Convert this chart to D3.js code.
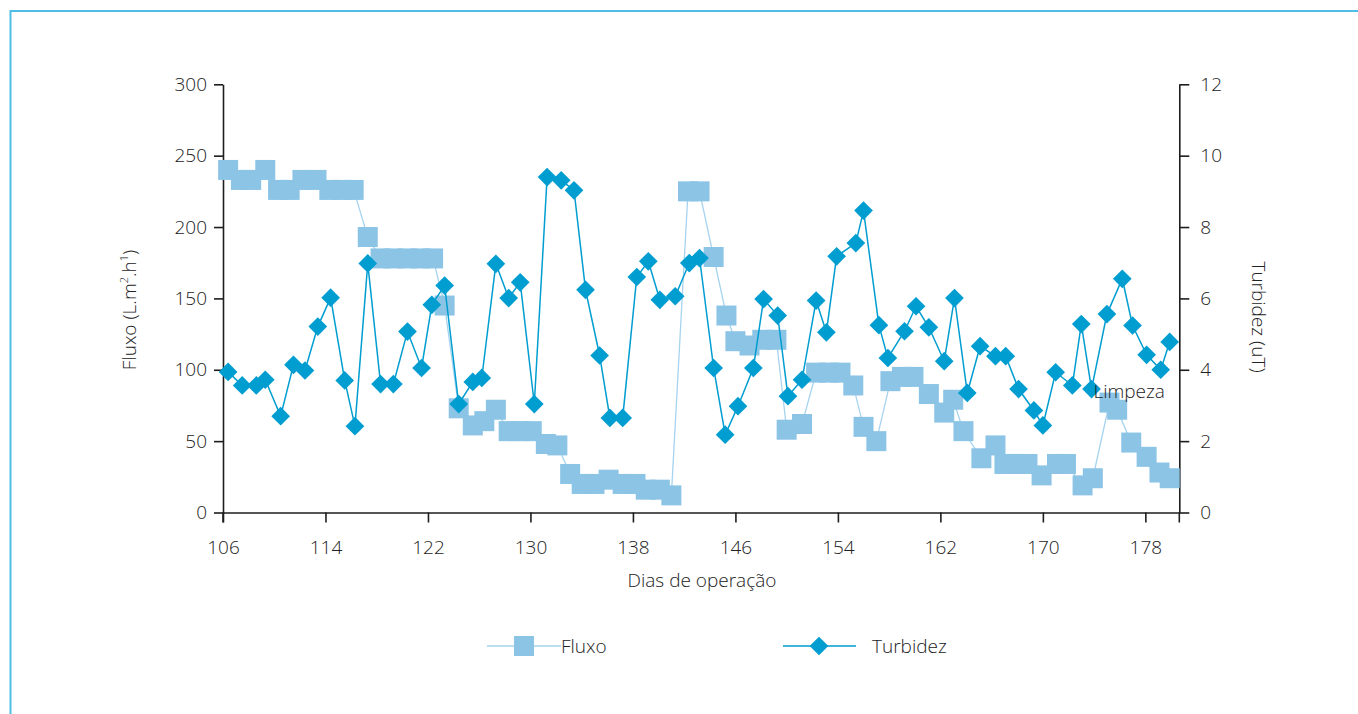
<!DOCTYPE html>
<html>
<head>
<meta charset="utf-8">
<script src="https://cdn.jsdelivr.net/npm/d3@7"></script>
<style>
  html, body { margin: 0; padding: 0; background: #fff; }
  svg { display: block; }
  text { font-family: "Open Sans", Lato, sans-serif; font-weight: 300; fill: #222; }
</style>
</head>
<body>
<svg id="chart" width="1358" height="714"></svg>
<script>
// Fluxo (L.m-2.h-1) per operating day
const fluxoDias = [106.4,107.4,108.2,109.3,110.3,111.2,112.2,113.3,114.3,115.3,116.2,117.3,118.3,119.3,120.4,121.4,122.4,123.3,124.4,125.5,126.4,127.3,128.3,129.2,130.1,131.2,132.1,133.1,134.0,135.0,136.1,137.2,138.2,139.0,140.1,141.0,142.3,143.2,144.3,145.3,146.0,147.1,148.1,149.2,150.0,151.2,152.3,153.3,154.2,155.2,156.0,157.0,158.1,159.0,159.9,161.1,162.3,163.0,163.8,165.2,166.3,167.0,167.9,168.8,169.9,171.1,171.8,173.1,173.9,175.2,175.8,176.9,178.1,179.1,179.9];
const fluxoValores = [240,233,233,240,226,226,233,233,226,226,226,193,178,178,178,178,178,145,73,61,64,72,57,57,57,48,47,27,20,20,23,20,20,16,16,12,225,225,179,138,120,117,121,121,58,62,98,98,98,89,60,50,92,95,95,83,70,79,57,38,47,34,34,34,26,34,34,19,24,77,72,49,39,28,24];

// Turbidez (uT) per operating day
const turbidezDias = [106.4,107.5,108.6,109.3,110.5,111.5,112.4,113.4,114.4,115.5,116.3,117.3,118.3,119.3,120.4,121.5,122.3,123.3,124.4,125.5,126.2,127.3,128.3,129.2,130.3,131.3,132.4,133.4,134.3,135.4,136.2,137.2,138.3,139.2,140.1,141.3,142.4,143.2,144.3,145.2,146.2,147.4,148.2,149.3,150.1,151.2,152.3,153.1,153.9,155.4,156.0,157.2,157.9,159.2,160.1,161.1,162.3,163.1,164.1,165.1,166.3,167.1,168.1,169.3,170.0,171.0,172.3,173.0,173.8,175.0,176.2,177.0,178.1,179.2,179.9];
const turbidezValores = [3.94,3.56,3.56,3.72,2.70,4.14,3.98,5.21,6.02,3.70,2.42,6.98,3.60,3.60,5.07,4.05,5.82,6.36,3.04,3.66,3.77,6.97,6.01,6.45,3.04,9.40,9.31,9.03,6.24,4.40,2.65,2.65,6.60,7.04,5.96,6.06,6.99,7.13,4.05,2.18,2.98,4.05,5.98,5.52,3.26,3.72,5.94,5.05,7.18,7.55,8.46,5.25,4.33,5.08,5.78,5.19,4.24,6.01,3.35,4.66,4.38,4.38,3.46,2.86,2.44,3.93,3.56,5.28,3.46,5.56,6.55,5.24,4.42,4.00,4.78];

// Axis ticks
const diasTicks = [106,114,122,130,138,146,154,162,170,178];
const fluxoTicks = [0,50,100,150,200,250,300];
const turbidezTicks = [0,2,4,6,8,10,12];

// Annotation
const anotacao = { texto: "Limpeza", dia: 173.95, valor: 3.2 };

const corFluxo = "#8cc4e6";
const corFluxoLinha = "#a6d3ef";
const corTurbidez = "#009dd1";
const corEixo = "#1e1e1e";
const corTexto = "#222";

const svg = d3.select("#chart");

// frame
svg.append("path")
  .attr("d", "M10.5,714 L10.5,11 L1358,11")
  .attr("fill", "none").attr("stroke", "#4fbde5").attr("stroke-width", 2);

const L = 223, R = 1179.3, T = 84.3, B = 512.5;

const x = d3.scaleLinear().domain([106, 180.65]).range([L, R]);
const yF = d3.scaleLinear().domain([0, 300]).range([B, T]);
const yT = d3.scaleLinear().domain([0, 12]).range([B, T]);

const fontSize = 19;

// Left axis
const gL = svg.append("g").attr("transform", `translate(${L},0)`)
  .call(d3.axisLeft(yF).tickValues(fluxoTicks).tickSize(9).tickSizeOuter(0).tickPadding(7));
// Right axis
const gR = svg.append("g").attr("transform", `translate(${R},0)`)
  .call(d3.axisRight(yT).tickValues(turbidezTicks).tickSize(10).tickSizeOuter(0).tickPadding(11));
// Bottom axis
const gB = svg.append("g").attr("transform", `translate(0,${B})`)
  .call(d3.axisBottom(x).tickValues(diasTicks).tickSize(10).tickSizeOuter(0).tickPadding(18));
// extra tick below at the right end
gB.append("line").attr("x1", R).attr("x2", R).attr("y1", 0).attr("y2", 10);

[gL, gR, gB].forEach(g => {
  g.selectAll("path.domain").attr("stroke", corEixo).attr("stroke-width", 1.6);
  g.selectAll("line").attr("stroke", corEixo).attr("stroke-width", 1.6);
  g.selectAll("text").attr("font-size", fontSize).attr("font-family", null).style("fill", corTexto);
});
// left axis line crosses down past the baseline
gL.append("line").attr("x1", 0).attr("x2", 0).attr("y1", B).attr("y2", B + 10)
  .attr("stroke", corEixo).attr("stroke-width", 1.6);

// Fluxo series
svg.append("path")
  .datum(fluxoDias.map((d, i) => [d, fluxoValores[i]]))
  .attr("fill", "none").attr("stroke", corFluxoLinha).attr("stroke-width", 1.3)
  .attr("d", d3.line().x(d => x(d[0])).y(d => yF(d[1])));
const lado = 20;
svg.append("g").selectAll("rect")
  .data(fluxoDias.map((d, i) => [d, fluxoValores[i]]))
  .join("rect")
  .attr("x", d => x(d[0]) - lado / 2).attr("y", d => yF(d[1]) - lado / 2)
  .attr("width", lado).attr("height", lado).attr("fill", corFluxo);

// Turbidez series
svg.append("path")
  .datum(turbidezDias.map((d, i) => [d, turbidezValores[i]]))
  .attr("fill", "none").attr("stroke", corTurbidez).attr("stroke-width", 1.5)
  .attr("d", d3.line().x(d => x(d[0])).y(d => yT(d[1])));
const diamante = d3.symbol().type(d3.symbolSquare).size(175);
svg.append("g").selectAll("path")
  .data(turbidezDias.map((d, i) => [d, turbidezValores[i]]))
  .join("path")
  .attr("d", diamante)
  .attr("transform", d => `translate(${x(d[0])},${yT(d[1])}) rotate(45)`)
  .attr("fill", corTurbidez);

// Annotation
svg.append("text")
  .attr("x", x(anotacao.dia)).attr("y", yT(anotacao.valor))
  .attr("font-size", fontSize)
  .text(anotacao.texto);

// Axis titles
const tituloY = svg.append("text")
  .attr("transform", `translate(136,310) rotate(-90)`)
  .attr("text-anchor", "middle").attr("font-size", fontSize);
tituloY.append("tspan").text("Fluxo (L.m");
tituloY.append("tspan").attr("font-size", 11).attr("dy", -8).text("2");
tituloY.append("tspan").attr("dy", 8).text(".h");
tituloY.append("tspan").attr("font-size", 11).attr("dy", -8).text("1");
tituloY.append("tspan").attr("dy", 8).text(")");

svg.append("text")
  .attr("transform", `translate(1252,317) rotate(90)`)
  .attr("text-anchor", "middle").attr("font-size", fontSize)
  .text("Turbidez (uT)");

svg.append("text")
  .attr("x", 702).attr("y", 587)
  .attr("text-anchor", "middle").attr("font-size", fontSize)
  .text("Dias de operação");

// Legend
const leg = svg.append("g");
const legY = 646;
leg.append("line").attr("x1", 487).attr("x2", 561).attr("y1", legY).attr("y2", legY)
  .attr("stroke", corFluxoLinha).attr("stroke-width", 1.5);
leg.append("rect").attr("x", 524 - lado / 2).attr("y", legY - lado / 2)
  .attr("width", lado).attr("height", lado).attr("fill", corFluxo);
leg.append("text").attr("x", 561).attr("y", legY + 7).attr("font-size", fontSize).text("Fluxo");

leg.append("line").attr("x1", 783).attr("x2", 856).attr("y1", legY).attr("y2", legY)
  .attr("stroke", corTurbidez).attr("stroke-width", 1.5);
leg.append("path").attr("d", diamante)
  .attr("transform", `translate(819,${legY}) rotate(45)`).attr("fill", corTurbidez);
leg.append("text").attr("x", 872).attr("y", legY + 7).attr("font-size", fontSize).text("Turbidez");
</script>
</body>
</html>
